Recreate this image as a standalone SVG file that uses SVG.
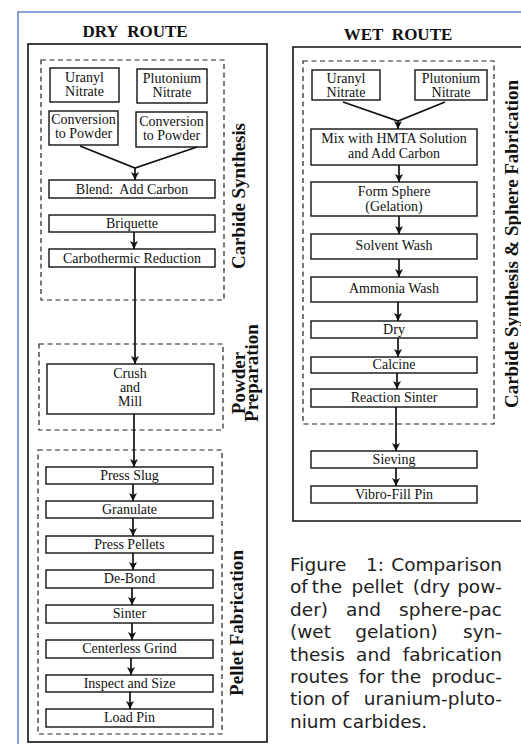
<svg xmlns="http://www.w3.org/2000/svg" width="521" height="744" viewBox="0 0 521 744">
<style>
.bg{fill:#ffffff}
.frame{fill:none;stroke:#6688c8;stroke-width:1.6}
.outer{fill:none;stroke:#111;stroke-width:1.6}
.dash{fill:none;stroke:#222;stroke-width:1.2;stroke-dasharray:5 3.5}
.box{fill:#fff;stroke:#111;stroke-width:1.4}
.t{font-family:"Liberation Serif","Times New Roman",serif;font-size:14px;fill:#111;text-anchor:middle}
.title{font-family:"Liberation Serif","Times New Roman",serif;font-size:17px;font-weight:bold;fill:#111;text-anchor:middle}
.vl{font-family:"Liberation Serif","Times New Roman",serif;font-size:19px;font-weight:bold;fill:#111;text-anchor:middle}
.cap{font-family:"DejaVu Sans",Verdana,sans-serif;font-size:18.5px;fill:#222}
.capm{font-family:"DejaVu Sans",Verdana,sans-serif;font-size:18.5px;fill:#222;text-anchor:middle}
.capend{font-family:"DejaVu Sans",Verdana,sans-serif;font-size:18.5px;fill:#222;text-anchor:end}
.c{fill:none;stroke:#111;stroke-width:1.7}
</style>
<defs>
<marker id="ah" markerUnits="userSpaceOnUse" markerWidth="10" markerHeight="10" refX="8" refY="4" orient="auto">
<path d="M0,0 L8,4 L0,8 L2,4 z" fill="#111"/>
</marker>
</defs>
<rect class="bg" x="0" y="0" width="521" height="744"/>
<path class="frame" d="M18,744 V12 H521"/>

<g id="dry-route">
<text class="title" x="135" y="37">DRY&#160; ROUTE</text>
<rect class="outer" x="28" y="44" width="239" height="698"/>
<rect class="dash" x="41" y="60" width="183" height="240"/>
<rect class="dash" x="39" y="344" width="184" height="86"/>
<rect class="dash" x="38" y="450" width="184" height="284"/>
<g id="lbl-carbide"><text class="vl" transform="translate(245,196) rotate(-90)" textLength="146" lengthAdjust="spacing">Carbide Synthesis</text></g>
<g id="lbl-powder"><text class="vl" transform="translate(245,383) rotate(-90)">Powder</text><text class="vl" transform="translate(258,373) rotate(-90)">Preparation</text></g>
<g id="lbl-pellet"><text class="vl" transform="translate(243,623) rotate(-90)" textLength="146" lengthAdjust="spacing">Pellet Fabrication</text></g>

<g id="d-uranyl"><rect class="box" x="50" y="68" width="69" height="34"/><text class="t" x="84.5" y="82">Uranyl</text><text class="t" x="84.5" y="96">Nitrate</text></g>
<g id="d-plutonium"><rect class="box" x="137" y="69" width="70" height="34"/><text class="t" x="172" y="83">Plutonium</text><text class="t" x="172" y="97">Nitrate</text></g>
<g id="d-conv1"><rect class="box" x="49" y="111" width="69" height="34"/><text class="t" x="83.5" y="124">Conversion</text><text class="t" x="83.5" y="138">to Powder</text></g>
<g id="d-conv2"><rect class="box" x="136" y="112" width="71" height="35"/><text class="t" x="171.5" y="126">Conversion</text><text class="t" x="171.5" y="140">to Powder</text></g>
<g id="d-blend"><rect class="box" x="49" y="180" width="166" height="18"/><text class="t" x="132" y="194">Blend:&#160; Add Carbon</text></g>
<g id="d-briquette"><rect class="box" x="49" y="215" width="166" height="17"/><text class="t" x="132" y="228">Briquette</text></g>
<g id="d-carbo"><rect class="box" x="49" y="249" width="166" height="18"/><text class="t" x="132" y="263">Carbothermic Reduction</text></g>
<g id="d-crush"><rect class="box" x="47" y="364" width="167" height="50"/><text class="t" x="130" y="378">Crush</text><text class="t" x="130" y="392">and</text><text class="t" x="130" y="406">Mill</text></g>
<g id="d-slug"><rect class="box" x="46" y="467" width="167" height="17"/><text class="t" x="129.5" y="480">Press Slug</text></g>
<g id="d-granulate"><rect class="box" x="46" y="501" width="167" height="17"/><text class="t" x="129.5" y="514">Granulate</text></g>
<g id="d-pellets"><rect class="box" x="46" y="536" width="167" height="17"/><text class="t" x="129.5" y="549">Press Pellets</text></g>
<g id="d-debond"><rect class="box" x="46" y="570" width="167" height="18"/><text class="t" x="129.5" y="583">De-Bond</text></g>
<g id="d-sinter"><rect class="box" x="46" y="605" width="167" height="18"/><text class="t" x="129.5" y="618">Sinter</text></g>
<g id="d-grind"><rect class="box" x="46" y="640" width="167" height="18"/><text class="t" x="129.5" y="653">Centerless Grind</text></g>
<g id="d-inspect"><rect class="box" x="46" y="675" width="167" height="17"/><text class="t" x="129.5" y="688">Inspect and Size</text></g>
<g id="d-load"><rect class="box" x="46" y="709" width="167" height="18"/><text class="t" x="129.5" y="722">Load Pin</text></g>
</g>

<g id="wet-route">
<text class="title" x="398" y="40">WET&#160; ROUTE</text>
<path class="outer" d="M522,47 H293 V521 H522"/>
<rect class="dash" x="303" y="61" width="191" height="363"/>
<g id="lbl-wet"><text class="vl" transform="translate(518,244) rotate(-90)" textLength="328" lengthAdjust="spacing">Carbide Synthesis &amp; Sphere Fabrication</text></g>
<g id="w-uranyl"><rect class="box" x="312" y="70" width="68" height="30"/><text class="t" x="346" y="83">Uranyl</text><text class="t" x="346" y="97">Nitrate</text></g>
<g id="w-plutonium"><rect class="box" x="415" y="70" width="72" height="30"/><text class="t" x="451" y="83">Plutonium</text><text class="t" x="451" y="97">Nitrate</text></g>
<g id="w-mix"><rect class="box" x="311" y="129" width="166" height="36"/><text class="t" x="394" y="143">Mix with HMTA Solution</text><text class="t" x="394" y="158">and Add Carbon</text></g>
<g id="w-form"><rect class="box" x="311" y="182" width="166" height="34"/><text class="t" x="394" y="196">Form Sphere</text><text class="t" x="394" y="211">(Gelation)</text></g>
<g id="w-solvent"><rect class="box" x="311" y="234" width="166" height="25"/><text class="t" x="394" y="250">Solvent Wash</text></g>
<g id="w-ammonia"><rect class="box" x="311" y="277" width="166" height="25"/><text class="t" x="394" y="293">Ammonia Wash</text></g>
<g id="w-dry"><rect class="box" x="311" y="321" width="166" height="17"/><text class="t" x="394" y="334">Dry</text></g>
<g id="w-calcine"><rect class="box" x="311" y="357" width="166" height="16"/><text class="t" x="394" y="369">Calcine</text></g>
<g id="w-reaction"><rect class="box" x="311" y="389" width="166" height="18"/><text class="t" x="394" y="402">Reaction Sinter</text></g>
<g id="w-sieving"><rect class="box" x="311" y="451" width="166" height="17"/><text class="t" x="394" y="464">Sieving</text></g>
<g id="w-vibro"><rect class="box" x="311" y="486" width="166" height="17"/><text class="t" x="394" y="499">Vibro-Fill Pin</text></g>
</g>

<g id="connectors">
<path class="c" d="M80,146 L135,168 L197,147"/>
<path class="c" d="M135,168 V180" marker-end="url(#ah)"/>
<path class="c" d="M134,232 V249" marker-end="url(#ah)"/>
<path class="c" d="M135,267 V364" marker-end="url(#ah)"/>
<path class="c" d="M134,414 V467" marker-end="url(#ah)"/>
<path class="c" d="M133,484 V501" marker-end="url(#ah)"/>
<path class="c" d="M133,518 V536" marker-end="url(#ah)"/>
<path class="c" d="M133,553 V570" marker-end="url(#ah)"/>
<path class="c" d="M132,588 V605" marker-end="url(#ah)"/>
<path class="c" d="M132,623 V640" marker-end="url(#ah)"/>
<path class="c" d="M131,658 V675" marker-end="url(#ah)"/>
<path class="c" d="M130,692 V709" marker-end="url(#ah)"/>
<path class="c" d="M343,102 L398,121 L445,102"/>
<path class="c" d="M398,121 V129" marker-end="url(#ah)"/>
<path class="c" d="M399,165 V182" marker-end="url(#ah)"/>
<path class="c" d="M399,216 V234" marker-end="url(#ah)"/>
<path class="c" d="M399,259 V277" marker-end="url(#ah)"/>
<path class="c" d="M398,302 V321" marker-end="url(#ah)"/>
<path class="c" d="M398,338 V357" marker-end="url(#ah)"/>
<path class="c" d="M397,373 V389" marker-end="url(#ah)"/>
<path class="c" d="M396,407 V451" marker-end="url(#ah)"/>
<path class="c" d="M396,468 V486" marker-end="url(#ah)"/>
</g>

<g id="caption">
<text class="cap" x="290" y="571">Figure</text><text class="capm" x="375" y="571">1:</text><text class="capend" x="502" y="571">Comparison</text>
<text class="cap" x="290" y="593.4">of</text><text class="capm" x="327" y="593.4">the</text><text class="capm" x="377.5" y="593.4">pellet</text><text class="capm" x="431.5" y="593.4">(dry</text><text class="capend" x="502" y="593.4">pow-</text>
<text class="cap" x="290" y="615.8">der)</text><text class="capm" x="363.5" y="615.8">and</text><text class="capend" x="502" y="615.8">sphere-pac</text>
<text class="cap" x="290" y="638.2">(wet</text><text class="capm" x="396.5" y="638.2">gelation)</text><text class="capend" x="502" y="638.2">syn-</text>
<text class="cap" x="290" y="660.6">thesis</text><text class="capm" x="373.5" y="660.6">and</text><text class="capend" x="502" y="660.6">fabrication</text>
<text class="cap" x="290" y="683">routes</text><text class="capm" x="371.5" y="683">for</text><text class="capm" x="406" y="683">the</text><text class="capend" x="502" y="683">produc-</text>
<text class="cap" x="290" y="705.4">tion</text><text class="capm" x="340" y="705.4">of</text><text class="capend" x="502" y="705.4">uranium-pluto-</text>
<text class="cap" x="290" y="727.8">nium carbides.</text>
</g>
</svg>
